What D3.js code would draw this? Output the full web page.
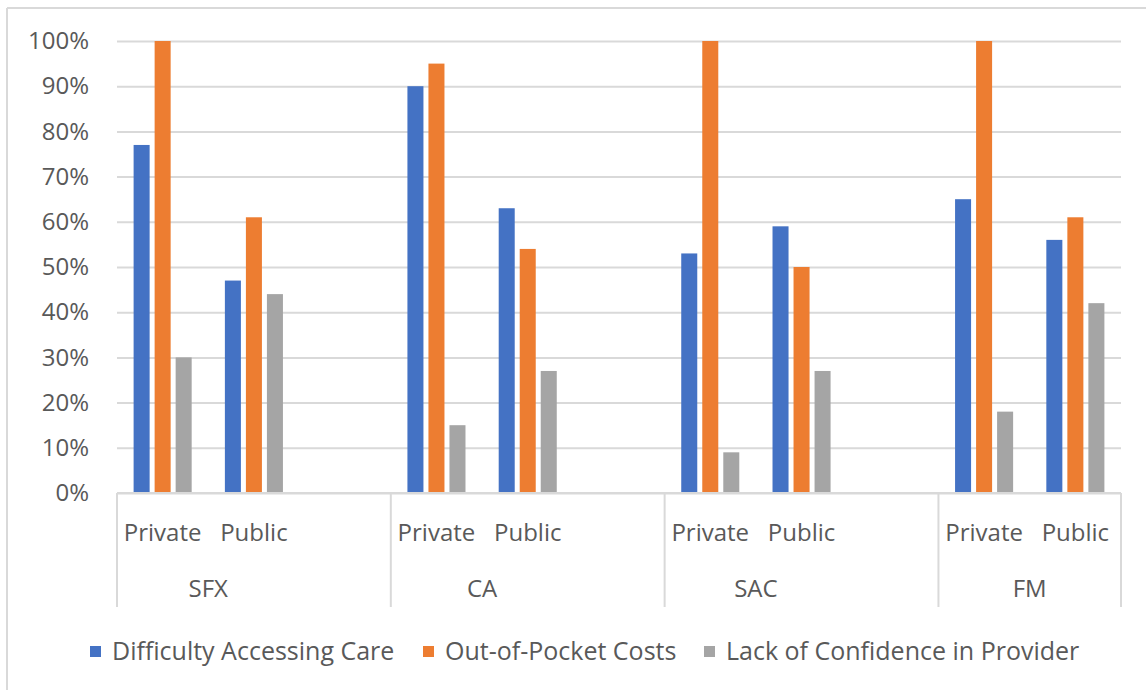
<!DOCTYPE html>
<html>
<head>
<meta charset="utf-8">
<script src="https://cdn.jsdelivr.net/npm/d3@7/dist/d3.min.js"></script>
<style>
  html, body { margin: 0; padding: 0; background: #fff; }
  svg { display: block; }
  text { font-family: "Open Sans", "Noto Sans", sans-serif; fill: #595959; }
</style>
</head>
<body>
<svg id="chart" width="1146" height="690"></svg>
<script>
// ---- data ----
const regions = ["SFX", "CA", "SAC", "FM"];
const sectors = ["Private", "Public"];
const seriesNames = ["Difficulty Accessing Care", "Out-of-Pocket Costs", "Lack of Confidence in Provider"];
const seriesColors = ["#4472C4", "#ED7D31", "#A5A5A5"];
// values in %, order: SFX Private, SFX Public, CA Private, CA Public, SAC Private, SAC Public, FM Private, FM Public
const difficultyAccessingCare = [77, 47, 90, 63, 53, 59, 65, 56];
const outOfPocketCosts = [100, 61, 95, 54, 100, 50, 100, 61];
const lackOfConfidence = [30, 44, 15, 27, 9, 27, 18, 42];
const yTicks = [0, 10, 20, 30, 40, 50, 60, 70, 80, 90, 100];

const seriesValues = [difficultyAccessingCare, outOfPocketCosts, lackOfConfidence];

// ---- layout ----
const svg = d3.select("#chart");
const plot = { left: 117, right: 1121, top: 41, bottom: 493 };
const gridColor = "#d9d9d9";
const fs = 24;

// category slots: each region's sectors, with a blank slot between regions
const slots = [];
regions.forEach((r, i) => {
  sectors.forEach(s => slots.push(r + "|" + s));
  if (i < regions.length - 1) slots.push(r + "|gap");
});

const x = d3.scaleBand().domain(slots).range([plot.left, plot.right]).padding(0);
const xs = d3.scaleBand().domain(d3.range(seriesNames.length))
  .range([0, x.bandwidth()]).paddingInner(0.238).paddingOuter(0.79);
const y = d3.scaleLinear().domain([0, 100]).range([plot.bottom, plot.top]);

// outer frame (top & left edges visible)
svg.append("line").attr("x1", 7).attr("x2", 7).attr("y1", 8).attr("y2", 690)
  .attr("stroke", gridColor).attr("stroke-width", 2);
svg.append("line").attr("x1", 7).attr("x2", 1146).attr("y1", 8).attr("y2", 8)
  .attr("stroke", gridColor).attr("stroke-width", 2);

// gridlines + y axis
const yAxis = d3.axisLeft(y).tickValues(yTicks).tickFormat(d => d + "%")
  .tickSize(-(plot.right - plot.left)).tickPadding(28);
const gy = svg.append("g").attr("transform", `translate(${plot.left},0)`).call(yAxis);
gy.select(".domain").remove();
gy.selectAll(".tick line").attr("stroke", gridColor).attr("stroke-width", 2);
gy.selectAll(".tick text").attr("font-size", fs).style("fill", "#595959")
  .attr("font-family", '"Open Sans", sans-serif');

// bars
const data = [];
regions.forEach((r, ri) => sectors.forEach((s, si) => {
  const idx = ri * sectors.length + si;
  seriesValues.forEach((vals, k) => data.push({ slot: r + "|" + s, k, v: vals[idx] }));
}));
svg.append("g").selectAll("rect").data(data).join("rect")
  .attr("x", d => x(d.slot) + xs(d.k))
  .attr("width", xs.bandwidth())
  .attr("y", d => y(d.v))
  .attr("height", d => y(0) - y(d.v))
  .attr("fill", d => seriesColors[d.k]);

// x axis baseline
svg.append("line").attr("x1", plot.left).attr("x2", plot.right)
  .attr("y1", plot.bottom).attr("y2", plot.bottom)
  .attr("stroke", gridColor).attr("stroke-width", 2);

// group separators
const sepBottom = 607;
const sepXs = [plot.left];
regions.forEach((r, i) => {
  if (i < regions.length - 1) sepXs.push(x(r + "|gap") + x.bandwidth());
});
sepXs.push(plot.right);
svg.append("g").selectAll("line").data(sepXs).join("line")
  .attr("x1", d => d).attr("x2", d => d)
  .attr("y1", plot.bottom).attr("y2", sepBottom)
  .attr("stroke", gridColor).attr("stroke-width", 2);

// sector labels
const secLabels = [];
regions.forEach(r => sectors.forEach(s => secLabels.push({ slot: r + "|" + s, s })));
svg.append("g").selectAll("text").data(secLabels).join("text")
  .attr("x", d => x(d.slot) + x.bandwidth() / 2)
  .attr("y", 541)
  .attr("text-anchor", "middle")
  .attr("font-size", fs)
  .text(d => d.s);

// region labels
svg.append("g").selectAll("text").data(regions).join("text")
  .attr("x", r => (x(r + "|" + sectors[0]) + x(r + "|" + sectors[sectors.length - 1]) + x.bandwidth()) / 2)
  .attr("y", 597)
  .attr("text-anchor", "middle")
  .attr("font-size", fs)
  .text(r => r);

// legend
const legendX = [90, 423, 704];
const lg = svg.append("g");
seriesNames.forEach((name, k) => {
  lg.append("rect").attr("x", legendX[k]).attr("y", 646).attr("width", 11).attr("height", 11)
    .attr("fill", seriesColors[k]);
  lg.append("text").attr("x", legendX[k] + 22).attr("y", 660)
    .attr("font-size", 25).text(name);
});
</script>
</body>
</html>
